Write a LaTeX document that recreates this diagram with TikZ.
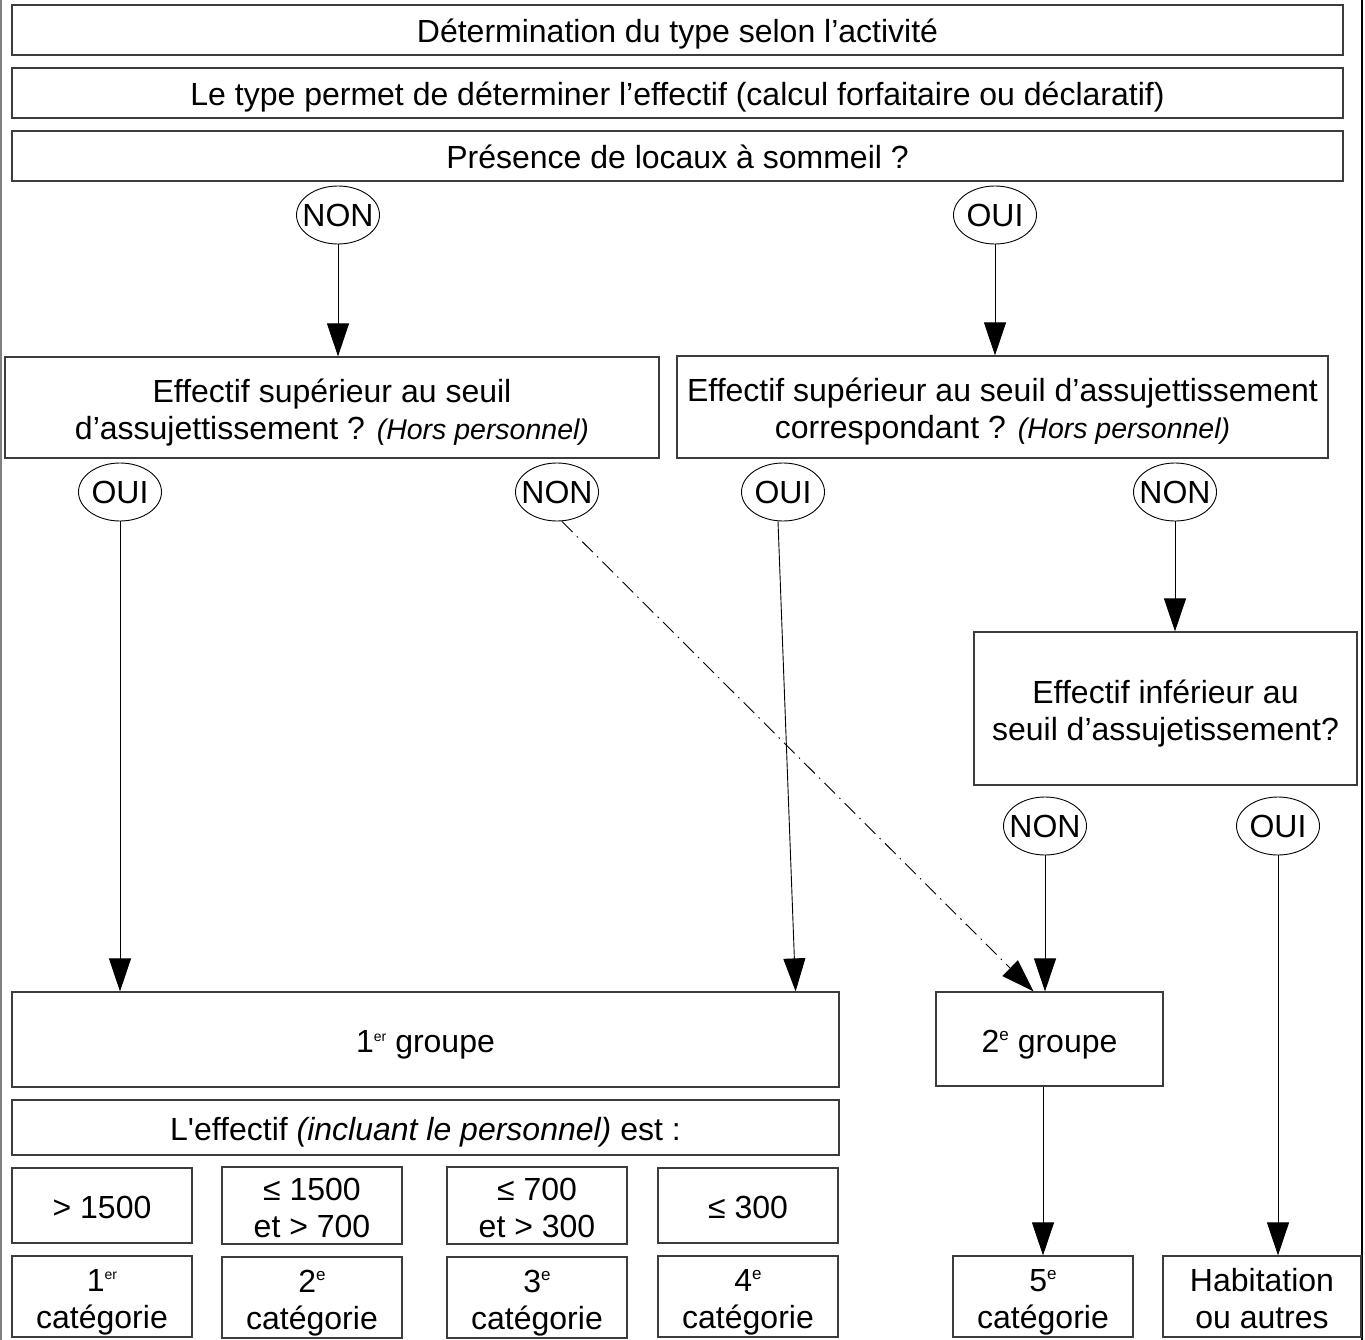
\documentclass[tikz,border=0pt]{standalone}
\usepackage{fontspec}
\setmainfont{Liberation Sans}
\usepackage{tikz}
\usetikzlibrary{shapes.geometric, arrows.meta, positioning, calc}
\definecolor{cadregris}{RGB}{60,60,60}
\newcommand{\expo}[2][17]{\raisebox{11.5pt}{\fontsize{#1}{#1}\selectfont #2}}
\newcommand{\reponse}[1]{\makebox[0pt]{#1}}
\newcommand{\etai}{\vrule height 33pt depth 7pt width 0pt}
\newcommand{\hors}{{\fontsize{28.5}{37}\selectfont\itshape (Hors personnel)}}

\begin{document}
\begin{tikzpicture}[
  x=1pt, y=-1pt,
  node distance=11.8pt,
  box/.style={rectangle, draw=cadregris, line width=1.2pt, inner sep=0pt, align=center, font=\fontsize{32}{37}\selectfont, execute at end node=\etai},
  bandeau/.style={box, minimum width=1331pt, minimum height=50pt},
  bulle/.style={ellipse, draw, line width=0.9pt, inner sep=0pt, minimum width=83pt, minimum height=58pt, font=\fontsize{32}{37}\selectfont},
  seuil/.style={box, minimum width=180pt, minimum height=75pt},
  categ/.style={box, minimum width=180pt, minimum height=81pt},
  arrow/.style={-{Triangle[length=33pt, width=22pt]}, line width=0.9pt},
  tiret/.style={arrow, dash pattern=on 15pt off 6pt on 1.5pt off 6pt}
]
\useasboundingbox (0,0) rectangle (1365,1340);
\draw[black!50, line width=1.2pt] (1,0) -- (1,1340);
\draw[line width=1.2pt] (1362,0) -- (1362,1340);

\node[bandeau] (type) at (677.5,30) {Détermination du type selon l’activité};
\node[bandeau, below=of type] (effectif) {Le type permet de déterminer l’effectif (calcul forfaitaire ou déclaratif)};
\node[bandeau, below=of effectif] (sommeil) {Présence de locaux à sommeil ?};

\node[bulle] (non1) at (338,215) {\reponse{NON}};
\node[bulle] (oui1) at (995,215) {\reponse{OUI}};

\node[box, minimum width=654pt, minimum height=101pt] (q1) at (332,407.5) {\etai Effectif supérieur au seuil\\d’assujettissement ? \hors};
\node[box, minimum width=651pt, minimum height=102pt] (q2) at (1002.5,407) {\etai Effectif supérieur au seuil d’assujettissement\\correspondant ? \hors};

\node[bulle] (oui2) at (120,492) {\reponse{OUI}};
\node[bulle] (non2) at (557,492) {\reponse{NON}};
\node[bulle] (oui3) at (783,492) {\reponse{OUI}};
\node[bulle] (non3) at (1175,492) {\reponse{NON}};

\node[box, minimum width=383pt, minimum height=153pt] (q3) at (1165.5,708.5) {\etai Effectif inférieur au\\seuil d’assujetissement?};

\node[bulle] (non4) at (1045,826) {\reponse{NON}};
\node[bulle] (oui4) at (1278,826) {\reponse{OUI}};

\node[box, minimum width=827pt, minimum height=95pt] (g1) at (425.5,1039.5) {1\expo[14]{er} groupe};
\node[box, minimum width=227pt, minimum height=94pt] (g2) at (1049.5,1039) {2\expo{e} groupe};

\node[box, minimum width=827pt, minimum height=55pt, below=of g1] (eff) {L\textquotesingle effectif \textit{(incluant le personnel)} est :};

\node[seuil, anchor=north west] (s1) at ([yshift=-11.8pt]eff.south west) {> 1500};
\node[seuil, right=28.8pt of s1] (s2) {\etai≤ 1500\\et > 700};
\node[seuil, right=43.8pt of s2] (s3) {\etai≤ 700\\et > 300};
\node[seuil, right=29.8pt of s3] (s4) {≤ 300};

\node[categ, below=of s1] (c1) {\etai 1\expo[14]{er}\\catégorie};
\node[categ, below=of s2] (c2) {\etai 2\expo{e}\\catégorie};
\node[categ, below=of s3] (c3) {\etai 3\expo{e}\\catégorie};
\node[categ, below=of s4] (c4) {\etai 4\expo{e}\\catégorie};
\node[categ] (c5) at (1043,1296.5) {\etai 5\expo{e}\\catégorie};
\node[categ, minimum width=198pt] (hab) at (1262,1296.5) {\etai Habitation\\ou autres};

\draw[arrow] (non1) -- (non1 |- q1.north);
\draw[arrow] (oui1) -- (oui1 |- q2.north);
\draw[arrow] (oui2) -- (oui2 |- g1.north);
\draw[tiret] ([xshift=5pt]non2.south) -- ([xshift=-16pt]g2.north);
\draw[arrow] ([xshift=-5pt]oui3.south) -- ([xshift=-44pt]g1.north east);
\draw[arrow] (non3) -- (non3 |- q3.north);
\draw[arrow] (non4) -- (non4 |- g2.north);
\draw[arrow] (oui4) -- (oui4 |- hab.north);
\draw[arrow] (g2.south -| c5) -- (c5);
\end{tikzpicture}
\end{document}
